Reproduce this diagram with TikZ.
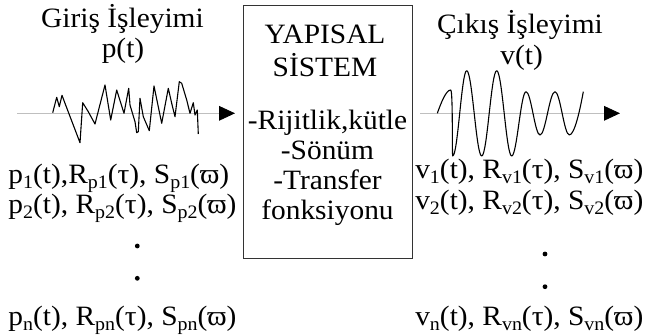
\documentclass[tikz,border=0pt]{standalone}
\usepackage{fontspec}
\setmainfont{Liberation Serif}[FakeStretch=1.05]
\usetikzlibrary{arrows.meta}
\newcommand\sbs[1]{\raisebox{-0.18em}{\fontsize{19}{19}\selectfont #1}}
\begin{document}
\begin{tikzpicture}[x=1pt,y=-1pt,
  every node/.style={inner sep=0pt, font=\fontsize{28}{30}\selectfont},
  txt/.style={anchor=base},
  lft/.style={anchor=base west},
  rgt/.style={anchor=base east},
  sysbox/.style={draw=black!80, line width=1pt, minimum width=169pt, minimum height=253pt},
  axisline/.style={draw=black!25, line width=0.9pt, -{Triangle[length=16pt,width=14.7pt,black]}},
  wave/.style={draw=black, line width=1.1pt, line join=round},
  dotmark/.style={fill=black}]
\useasboundingbox (0,0) rectangle (645,335);

% box
\node[sysbox] (sys) at (327.5,131.6) {};
\node[txt] (t1) at (325,43.3) {YAPISAL};
\node[txt] (t2) at (325,76) {SİSTEM};
\node[txt] (t3) at (327.5,129) {-Rijitlik,kütle};
\node[txt] (t4) at (327.5,159) {-Sönüm};
\node[txt] (t5) at (327.5,189) {-Transfer};
\node[txt] (t6) at (327.5,219) {fonksiyonu};

% titles
\node[txt] (gin) at (122.5,27) {Giriş İşleyimi};
\node[txt] (pt) at (123,57) {p(t)};
\node[txt] (cik) at (520,33) {Çıkış İşleyimi};
\node[txt] (vt) at (521.7,64) {v(t)};

% axes
\coordinate (a1) at (17,113.3);
\coordinate (a2) at (235,113.3);
\coordinate (b1) at (420,113.3);
\coordinate (b2) at (620,113.3);
\draw[axisline] (a1) -- (a2);
\draw[axisline] (b1) -- (b2);

% input wave
\draw[wave] (52.7,112.7) -- (56.7,97.3) -- (59.3,106.7) -- (62,95.3) -- (65,103.3)
 -- (80,142.7) -- (82.7,102.7) -- (88.3,111.7) -- (95,124) -- (105,85)
 -- (110.7,120) -- (116.7,90) -- (124,113.3) -- (128.7,88.3) -- (130,105)
 -- (135,121.7) -- (136.7,132.7) -- (138.3,131.7) -- (140,98.3) -- (143.3,116.7)
 -- (149.3,130.7) -- (154,86) -- (161.7,123.3) -- (168.3,88.3) -- (171.7,103.3)
 -- (175,116.7) -- (179.3,81.7) -- (181.7,83.3) -- (186.7,100) -- (190,113.3)
 -- (193.3,102.7) -- (195,115) -- (197.3,110) -- (198.3,134);

% output wave
\draw[wave] (437.3,113.3) .. controls (441,103) and (446,90) .. (450.7,90)
 .. controls (453,90) and (452,156) .. (452.7,156)
 .. controls (457.8,156) and (461.6,70.7) .. (466.7,70.7)
 .. controls (472.2,70.7) and (476.2,156) .. (481.7,156)
 .. controls (487.2,156) and (491.2,70.7) .. (496.7,70.7)
 .. controls (502.2,70.7) and (506.2,156) .. (511.7,156)
 .. controls (516.9,156) and (520.8,91.7) .. (526,91.7)
 .. controls (531.1,91.7) and (534.9,135) .. (540,135)
 .. controls (545.5,135) and (549.5,91.7) .. (555,91.7)
 .. controls (560.2,91.7) and (564.1,135) .. (569.3,135)
 .. controls (574.5,135) and (580,110) .. (583.3,91.7);

% input labels
\node[lft] (p1) at (8.3,183) {p\sbs{1}(t),R\sbs{p1}(τ), S\sbs{p1}(ϖ)};
\node[lft] (p2) at (8.3,213.3) {p\sbs{2}(t), R\sbs{p2}(τ), S\sbs{p2}(ϖ)};
\fill[dotmark] (137.3,246) circle (2.4pt);
\fill[dotmark] (137.3,278.3) circle (2.4pt);
\node[lft] (pn) at (8.3,325) {p\sbs{n}(t), R\sbs{pn}(τ), S\sbs{pn}(ϖ)};

% output labels
\node[rgt] (v1) at (643.5,178.5) {v\sbs{1}(t), R\sbs{v1}(τ), S\sbs{v1}(ϖ)};
\node[rgt] (v2) at (643.5,209.5) {v\sbs{2}(t), R\sbs{v2}(τ), S\sbs{v2}(ϖ)};
\fill[dotmark] (545,254) circle (2.4pt);
\fill[dotmark] (545,286.7) circle (2.4pt);
\node[rgt] (vn) at (643.5,325) {v\sbs{n}(t), R\sbs{vn}(τ), S\sbs{vn}(ϖ)};
\end{tikzpicture}
\end{document}
